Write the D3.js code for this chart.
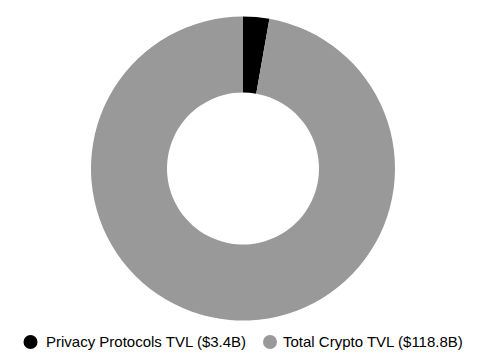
<!DOCTYPE html>
<html><head><meta charset="utf-8">
<script src="https://cdn.jsdelivr.net/npm/d3@7"></script>
<style>html,body{margin:0;padding:0;background:#fff;}svg{display:block;}</style>
</head><body>
<svg id="c" width="485" height="361"></svg>
<script>
const labels = ["Privacy Protocols TVL ($3.4B)", "Total Crypto TVL ($118.8B)"];
const values = [3.4, 118.8];
const colors = ["#000000", "#999999"];

const svg = d3.select("#c");
const cx = 243, cy = 168.5, outerR = 152, innerR = 76;
const pie = d3.pie().sort(null).value(d => d)(values);
const arc = d3.arc().innerRadius(innerR).outerRadius(outerR);
const g = svg.append("g").attr("transform", `translate(${cx},${cy})`);
g.selectAll("path").data(pie).join("path")
  .attr("d", arc).attr("fill", (d, i) => colors[i]);

const legend = svg.append("g").attr("font-family", "Liberation Sans, Arial, sans-serif").attr("font-size", 15);
const items = [{cx: 30.5, tx: 46}, {cx: 270, tx: 283}];
labels.forEach((l, i) => {
  legend.append("circle").attr("cx", items[i].cx).attr("cy", 342).attr("r", 7).attr("fill", colors[i]);
  legend.append("text").attr("x", items[i].tx).attr("y", 342).attr("dy", "0.35em").attr("fill", "#000").text(l);
});
</script>
</body></html>
